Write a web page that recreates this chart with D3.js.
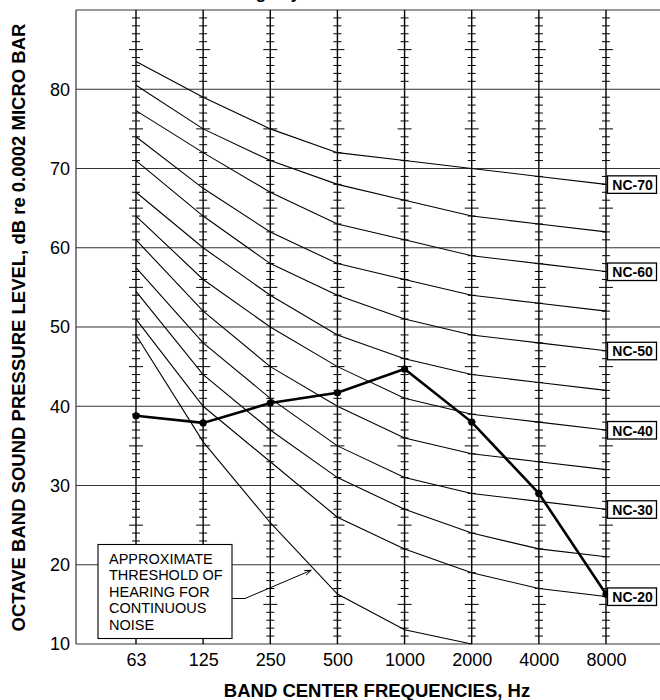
<!DOCTYPE html>
<html lang="en">
<head>
<meta charset="UTF-8">
<title>NC Curves</title>
<script src="https://cdn.jsdelivr.net/npm/d3@7/dist/d3.min.js"></script>
<style>
    body { margin: 0; background: #fff; }
    svg { display: block; font-family: Arial, "Liberation Sans", sans-serif; }
    .nc { fill: none; stroke: #000; stroke-width: 1.1px; }
    .grid { stroke: #333; stroke-width: 1.2px; }
    .vgrid { stroke: #000; stroke-width: 1.4px; }
    .tick-mark { stroke: #000; stroke-width: 1px; }
</style>
</head>
<body>
<script>
    // octave band centre frequencies
    var freqs = ["63", "125", "250", "500", "1000", "2000", "4000", "8000"];
    var yTicks = [10, 20, 30, 40, 50, 60, 70, 80];

    // NC curves, dB per band
    var nc70 = [83.5, 79, 75, 72, 71, 70, 69, 68];
    var nc65 = [80.5, 75, 71, 68, 66, 64, 63, 62];
    var nc60 = [77.3, 72, 67, 63, 61, 59, 58, 57];
    var nc55 = [74, 67.5, 62, 58, 56, 54, 53, 52];
    var nc50 = [71, 64, 58, 54, 51, 49, 48, 47];
    var nc45 = [67, 60, 54, 49, 46, 44, 43, 42];
    var nc40 = [64, 56, 50, 45, 41, 39, 38, 37];
    var nc35 = [61, 52, 45, 40, 36, 34, 33, 32];
    var nc30 = [57.5, 48, 41, 35, 31, 29, 28, 27];
    var nc25 = [54.5, 44, 37, 31, 27, 24, 22, 21];
    var nc20 = [51, 40, 33, 26, 22, 19, 17, 16];
    var ncNames = ["NC-70", "NC-65", "NC-60", "NC-55", "NC-50", "NC-45", "NC-40", "NC-35", "NC-30", "NC-25", "NC-20"];
    var labelled = ["NC-70", "NC-60", "NC-50", "NC-40", "NC-30", "NC-20"];

    // approximate threshold of hearing (63 .. 2000 Hz)
    var threshold = [49, 35.5, 25.3, 16.3, 11.8, 10];

    // measured spectrum
    var measured = [38.8, 37.9, 40.4, 41.7, 44.7, 38, 29, 16.3];

    var noteLines = ["APPROXIMATE", "THRESHOLD OF", "HEARING FOR", "CONTINUOUS", "NOISE"];

    var curves = [nc70, nc65, nc60, nc55, nc50, nc45, nc40, nc35, nc30, nc25, nc20];

    var W = 660, H = 700;
    var pLeft = 76, pRight = 660, pTop = 10, pBottom = 644;

    var x = d3.scalePoint().domain(freqs).range([136, 606]);
    var y = d3.scaleLinear().domain([10, 90]).range([pBottom, pTop]);

    var svg = d3.select("body").append("svg")
        .attr("width", W)
        .attr("height", H);

    // title (cut off by the top of the picture)
    svg.append("text")
        .attr("x", 345)
        .attr("y", -1)
        .attr("text-anchor", "middle")
        .style("font-size", "17px")
        .style("font-weight", "bold")
        .text("Noise Criteria Ratings by Octave Band Sound Pressure Level");

    // horizontal grid lines, 10 dB
    svg.append("g").selectAll("line")
        .data(d3.range(10, 91, 10))
        .enter().append("line")
        .attr("class", "grid")
        .attr("x1", pLeft).attr("x2", pRight)
        .attr("y1", function(d) { return y(d); })
        .attr("y2", function(d) { return y(d); });

    // left axis line
    svg.append("line")
        .attr("class", "grid")
        .attr("x1", pLeft).attr("x2", pLeft)
        .attr("y1", pTop).attr("y2", pBottom);

    // vertical lines at each band with 1 dB ticks
    var vg = svg.append("g");
    freqs.forEach(function(f) {
        vg.append("line")
            .attr("class", "vgrid")
            .attr("x1", x(f)).attr("x2", x(f))
            .attr("y1", pTop).attr("y2", pBottom);
        vg.selectAll(null)
            .data(d3.range(11, 90).filter(function(v) { return v % 10 != 0; }))
            .enter().append("line")
            .attr("class", "tick-mark")
            .attr("x1", function(v) { return x(f) - (v % 5 == 0 ? 7 : 4); })
            .attr("x2", function(v) { return x(f) + (v % 5 == 0 ? 7 : 4); })
            .attr("y1", function(v) { return y(v); })
            .attr("y2", function(v) { return y(v); });
    });

    // axes (labels only)
    var yAxis = svg.append("g")
        .attr("transform", "translate(" + pLeft + ",0)")
        .call(d3.axisLeft(y).tickValues(yTicks).tickSize(0).tickPadding(6));
    yAxis.select(".domain").remove();
    yAxis.selectAll("text")
        .style("font-size", "18px")
        .style("font-family", "Arial, 'Liberation Sans', sans-serif")
        .attr("fill", "#000");

    var xAxis = svg.append("g")
        .attr("transform", "translate(0," + pBottom + ")")
        .call(d3.axisBottom(x).tickSize(0).tickPadding(9));
    xAxis.select(".domain").remove();
    xAxis.selectAll("text")
        .style("font-size", "18px")
        .style("font-family", "Arial, 'Liberation Sans', sans-serif")
        .attr("fill", "#000");

    // NC curves
    var line = d3.line()
        .x(function(d, i) { return x(freqs[i]); })
        .y(function(d) { return y(d); });

    svg.append("g").selectAll("path")
        .data(curves)
        .enter().append("path")
        .attr("class", "nc")
        .attr("d", line);

    // threshold of hearing
    svg.append("path")
        .datum(threshold)
        .attr("class", "nc")
        .attr("d", line);

    // measured spectrum
    svg.append("path")
        .datum(measured)
        .attr("fill", "none")
        .attr("stroke", "#000")
        .attr("stroke-width", 2.6)
        .attr("d", line);
    svg.append("g").selectAll("circle")
        .data(measured)
        .enter().append("circle")
        .attr("cx", function(d, i) { return x(freqs[i]); })
        .attr("cy", function(d) { return y(d); })
        .attr("r", 3.6)
        .attr("fill", "#000");

    // NC labels at the 8000 Hz end
    var lab = svg.append("g").selectAll("g")
        .data(curves.map(function(c, i) { return { name: ncNames[i], v: c[c.length - 1] }; })
            .filter(function(d) { return labelled.indexOf(d.name) >= 0; }))
        .enter().append("g")
        .attr("transform", function(d) { return "translate(" + (x("8000") + 1.5) + "," + y(d.v) + ")"; });
    lab.append("rect")
        .attr("x", 0).attr("y", -8.5)
        .attr("width", 49).attr("height", 17.5)
        .attr("fill", "#fff")
        .attr("stroke", "#000")
        .attr("stroke-width", 1.3);
    lab.append("text")
        .attr("x", 25).attr("y", 5.5)
        .attr("text-anchor", "middle")
        .style("font-size", "14px")
        .style("font-weight", "bold")
        .text(function(d) { return d.name; });

    // threshold note box with leader
    var bx = 98, by = 544.5, bw = 134, bh = 94;
    svg.append("rect")
        .attr("x", bx).attr("y", by)
        .attr("width", bw).attr("height", bh)
        .attr("fill", "#fff")
        .attr("stroke", "#000")
        .attr("stroke-width", 1.1);
    svg.append("g").selectAll("text")
        .data(noteLines)
        .enter().append("text")
        .attr("x", bx + 11)
        .attr("y", function(d, i) { return by + 19 + i * 16.6; })
        .style("font-size", "14.5px")
        .text(function(d) { return d; });

    // leader ends just under the threshold curve between 250 and 500 Hz
    var t = 0.61;
    var tipX = x("250") + t * (x("500") - x("250"));
    var tipY = y(threshold[2]) + t * (y(threshold[3]) - y(threshold[2])) + 4;
    var elbowX = bx + bw + 13, elbowY = by + 54;
    svg.append("path")
        .attr("d", "M" + (bx + bw) + "," + elbowY + "H" + elbowX + "L" + tipX + "," + tipY)
        .attr("fill", "none")
        .attr("stroke", "#000")
        .attr("stroke-width", 1);
    var ang = Math.atan2(tipY - elbowY, tipX - elbowX);
    var ah = 7;
    svg.append("path")
        .attr("d", "M" + (tipX - ah * Math.cos(ang - 0.35)) + "," + (tipY - ah * Math.sin(ang - 0.35)) +
            "L" + tipX + "," + tipY +
            "L" + (tipX - ah * Math.cos(ang + 0.35)) + "," + (tipY - ah * Math.sin(ang + 0.35)))
        .attr("fill", "none")
        .attr("stroke", "#000")
        .attr("stroke-width", 1);

    // axis titles
    svg.append("text")
        .attr("x", 377)
        .attr("y", 697)
        .attr("text-anchor", "middle")
        .style("font-size", "18.5px")
        .style("font-weight", "bold")
        .text("BAND CENTER FREQUENCIES, Hz");

    svg.append("text")
        .attr("transform", "translate(25,327.5) rotate(-90)")
        .attr("text-anchor", "middle")
        .style("font-size", "18.5px")
        .style("font-weight", "bold")
        .text("OCTAVE BAND SOUND PRESSURE LEVEL, dB re 0.0002 MICRO BAR");
</script>
</body>
</html>
